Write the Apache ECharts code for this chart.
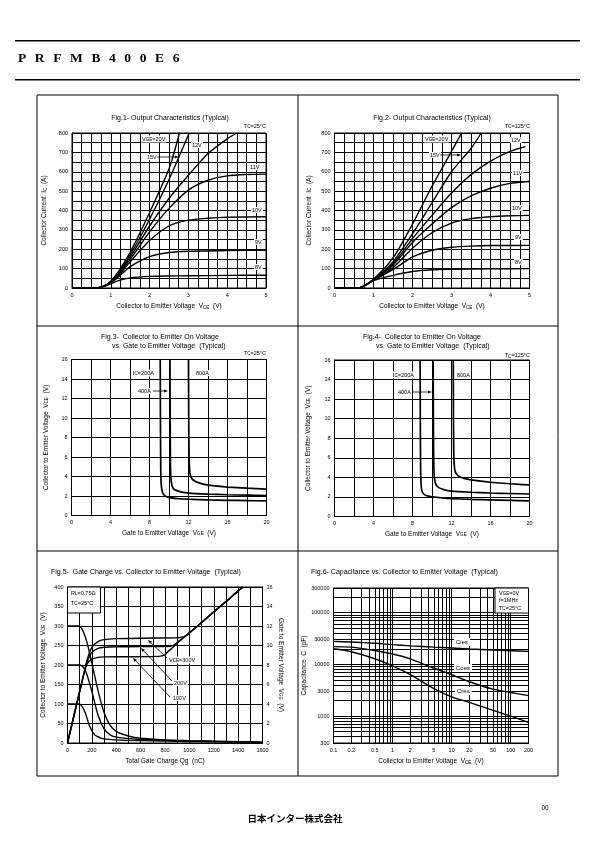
<!DOCTYPE html>
<html><head><meta charset="utf-8">
<script src="https://cdn.jsdelivr.net/npm/echarts@6/dist/echarts.min.js"></script>
<style>
html,body{margin:0;padding:0;background:#fff;width:595px;height:842px;overflow:hidden}
#c{position:absolute;left:0;top:0;width:595px;height:842px}
#hdr{position:absolute;left:18px;top:50px;font-family:'Liberation Serif','DejaVu Serif',serif;font-size:13.5px;font-weight:bold;letter-spacing:8.6px;color:#000;line-height:16px}
</style></head>
<body>
<div id="c"></div>
<div id="hdr">PRFMB400E6</div>
<script>
// ---------------- DATA ----------------
// Fig.1 Output characteristics Tc=25°C : [VCE (V), IC (A)]
const f1_8V  = [[0,0],[0.6,0],[0.8,6],[1.0,22],[1.2,38],[1.5,52],[2.0,60],[2.5,62],[3.0,63],[4.0,65],[5.0,66]];
const f1_9V  = [[0,0],[0.6,0],[0.8,7],[1.0,26],[1.2,58],[1.5,110],[2.0,162],[2.5,183],[3.0,190],[4.0,193],[5.0,195]];
const f1_10V = [[0,0],[0.6,0],[0.8,7],[1.0,28],[1.2,65],[1.5,135],[2.0,245],[2.5,320],[3.0,350],[3.5,360],[4.0,365],[5.0,368]];
const f1_11V = [[0,0],[0.6,0],[0.8,8],[1.0,30],[1.2,72],[1.5,148],[2.0,290],[2.5,411],[3.0,505],[3.5,556],[4.0,579],[4.5,586],[5.0,588]];
const f1_12V = [[0,0],[0.6,0],[0.8,8],[1.0,32],[1.2,78],[1.5,160],[2.0,320],[2.5,462],[3.0,582],[3.5,693],[4.0,770],[4.25,800]];
const f1_15V = [[0,0],[0.6,0],[0.8,8],[1.0,34],[1.2,82],[1.5,172],[2.0,355],[2.5,560],[3.02,800]];
const f1_20V = [[0,0],[0.6,0],[0.8,8],[1.0,35],[1.2,86],[1.5,185],[2.0,390],[2.5,615],[2.77,800]];
// Fig.2 Output characteristics Tc=125°C
const f2_8V  = [[0,0],[0.5,0],[0.7,5],[1.0,38],[1.5,65],[2.0,85],[2.5,94],[3.0,97],[4.0,99],[5.0,100]];
const f2_9V  = [[0,0],[0.5,0],[0.7,5],[1.0,40],[1.5,95],[2.0,160],[2.5,195],[3.0,210],[3.5,216],[4.0,219],[5.0,220]];
const f2_10V = [[0,0],[0.5,0],[0.7,5],[1.0,41],[1.5,105],[2.0,205],[2.5,285],[3.0,335],[3.5,358],[4.0,368],[4.5,373],[5.0,375]];
const f2_11V = [[0,0],[0.5,0],[0.7,5],[1.0,42],[1.5,118],[2.0,235],[2.5,330],[3.0,415],[3.5,475],[4.0,515],[4.5,540],[5.0,550]];
const f2_12V = [[0,0],[0.5,0],[0.7,5],[1.0,43],[1.5,125],[2.0,255],[2.5,375],[3.0,490],[3.5,585],[4.0,655],[4.5,705],[4.9,730]];
const f2_15V = [[0,0],[0.5,0],[0.7,5],[1.0,44],[1.5,135],[2.0,280],[2.5,440],[3.0,600],[3.5,720],[3.76,800]];
const f2_20V = [[0,0],[0.5,0],[0.7,5],[1.0,45],[1.5,155],[2.0,330],[2.5,525],[3.0,705],[3.26,800]];
// Fig.3 VCE(sat) vs VGE, Tc=25°C : [VGE (V), VCE (V)]
const f3_200A = [[9.10,16],[9.12,10],[9.15,5],[9.2,3.2],[9.3,2.5],[9.45,2.15],[9.7,1.95],[10.2,1.8],[11,1.72],[12,1.67],[14,1.6],[16,1.56],[18,1.53],[20,1.5]];
const f3_400A = [[10.10,16],[10.12,10],[10.15,5],[10.2,3.8],[10.3,3.1],[10.5,2.7],[10.8,2.55],[11.3,2.4],[12,2.3],[14,2.2],[16,2.13],[18,2.08],[20,2.03]];
const f3_800A = [[12.0,16],[12.02,10],[12.06,6],[12.12,4.6],[12.2,4.1],[12.4,3.7],[12.8,3.45],[13.5,3.22],[14,3.12],[16,2.92],[18,2.8],[20,2.7]];
// Fig.4 VCE(sat) vs VGE, Tc=125°C
const f4_200A = [[8.78,16],[8.80,10],[8.83,5],[8.88,3.3],[8.95,2.7],[9.1,2.35],[9.4,2.15],[10,2.02],[11,1.9],[12,1.83],[14,1.75],[16,1.7],[18,1.65],[20,1.6]];
const f4_400A = [[10.12,16],[10.14,10],[10.17,6],[10.22,4.3],[10.3,3.6],[10.45,3.2],[10.7,2.95],[11.2,2.75],[12,2.6],[14,2.48],[16,2.4],[18,2.35],[20,2.3]];
const f4_800A = [[12.18,16],[12.2,10],[12.23,6.5],[12.28,5.3],[12.35,4.7],[12.5,4.35],[12.8,4.1],[13.3,3.9],[14,3.75],[16,3.5],[18,3.35],[20,3.22]];
// Fig.5 Gate charge : VCE [Qg (nC), VCE (V)], VGE [Qg (nC), VGE (V)]
const f5_vce300 = [[0,300],[90,300],[120,292],[160,258],[200,205],[250,135],[300,78],[350,45],[400,30],[500,18],[600,12],[800,8],[1000,6],[1300,4],[1600,2]];
const f5_vce200 = [[0,200],[100,200],[130,194],[160,175],[200,132],[250,72],[300,36],[350,21],[400,15],[600,9],[800,7],[1000,5],[1300,3],[1600,2]];
const f5_vce100 = [[0,100],[90,100],[115,96],[145,78],[180,45],[220,22],[280,12],[400,8],[600,6],[1000,4],[1350,3]];
const f5_vge300 = [[0,0],[100,5.3],[140,7.4],[160,8.5],[200,9.8],[250,10.4],[300,10.6],[400,10.7],[600,10.75],[900,10.8],[940,10.86],[980,11.05],[1020,11.5],[1100,12.35],[1200,13.45],[1300,14.5],[1400,15.6],[1440,16]];
const f5_vge200 = [[0,0],[100,5.3],[140,7.4],[160,8.3],[200,9.3],[250,9.7],[300,9.82],[400,9.87],[600,9.88],[820,9.9],[850,9.93],[880,10.1],[920,10.5],[960,10.9],[1000,11.3],[1100,12.35],[1200,13.45],[1300,14.5],[1400,15.6],[1440,16]];
const f5_vge100 = [[0,0],[100,5.3],[140,7.4],[160,8.1],[200,8.6],[250,8.78],[300,8.83],[500,8.85],[750,8.88],[800,9.05],[830,9.45],[860,9.75],[900,10.25],[950,10.78],[1000,11.3],[1100,12.35],[1200,13.45],[1300,14.5],[1400,15.6],[1440,16]];
// Fig.6 Capacitance
const f6_vce  = [0.1, 0.2, 0.5, 1, 2, 5, 10, 20, 50, 100, 200];
const f6_cies = [27800, 27000, 25500, 24000, 22800, 21500, 20700, 19800, 18900, 18300, 17800];
const f6_coes = [22000, 21500, 18500, 15800, 12700, 8400, 6300, 4600, 3300, 2850, 2480];
const f6_cres = [20000, 17500, 12800, 9300, 6300, 3400, 2350, 1830, 1280, 990, 750];
// Fig.6 log-axis tick values
const f6_xLabels = [0.1, 0.2, 0.5, 1, 2, 5, 10, 20, 50, 100, 200];
const f6_xGrid = [0.1,0.2,0.3,0.4,0.5,0.6,0.7,0.8,0.9,1,2,3,4,5,6,7,8,9,10,20,30,40,50,60,70,80,90,100,200];
const f6_yLabels = [300, 1000, 3000, 10000, 30000, 100000, 300000];
const f6_yGrid = [300,400,500,600,700,800,900,1000,2000,3000,4000,5000,6000,7000,8000,9000,10000,20000,30000,40000,50000,60000,70000,80000,90000,100000,200000,300000];

// ---------------- STYLE / LAYOUT ----------------
const FONT = "'Liberation Sans', Arial, Helvetica, sans-serif";
const RICH = {s:{fontSize:4.6, fontFamily:FONT, verticalAlign:'bottom', padding:[2,0,0,0]}};
const gridDefs = [
  {left:72, top:133, width:194, height:155},
  {left:334.5, top:133, width:195, height:155},
  {left:71.5, top:359.5, width:195, height:156},
  {left:334.5, top:360, width:195, height:156.5},
  {left:67.5, top:587, width:195, height:156},
  {left:333.5, top:588, width:195, height:155}
];
const grids = gridDefs.map(g => Object.assign({show:true, borderColor:'#000', borderWidth:1, backgroundColor:'rgba(0,0,0,0)', containLabel:false, outerBoundsMode:'none'}, g));

function nameStyle(){ return {fontSize:6.5, fontFamily:FONT, color:'#000', rich:RICH}; }
function plainFmt(v){ return String(v); }
function valAxis(gi, pos, min, max, interval, minorN, name, nameGap, extra){
  return Object.assign({
    type:'value', gridIndex:gi, position:pos, min:min, max:max, interval:interval,
    axisLine:{show:true, onZero:false, lineStyle:{color:'#000', width:1}},
    axisTick:{show:false},
    axisLabel:{fontSize:5.5, color:'#000', fontFamily:FONT, margin:4, formatter:plainFmt},
    splitLine:{show:true, lineStyle:{color:'#000', width:1}},
    minorTick:{show:false, splitNumber: minorN || 5},
    minorSplitLine:{show: !!minorN, lineStyle:{color:'#000', width:1}},
    name:name, nameLocation:'middle', nameGap:nameGap, nameTextStyle:nameStyle()
  }, extra || {});
}
function logFmt(v){ return v < 1 ? (Math.round(v*10)/10).toString() : String(Math.round(v)); }
function logAxis(gi, pos, min, max, grid, labels, name, nameGap){
  return {
    type:'log', logBase:10, gridIndex:gi, position:pos, min:min, max:max,
    axisLine:{show:true, onZero:false, lineStyle:{color:'#000', width:1}},
    axisTick:{show:false, customValues:grid},
    axisLabel:{fontSize:5.5, color:'#000', fontFamily:FONT, margin:4, customValues:labels, formatter:logFmt},
    splitLine:{show:true, lineStyle:{color:'#000', width:1}},
    minorTick:{show:false}, minorSplitLine:{show:false},
    name:name, nameLocation:'middle', nameGap:nameGap, nameTextStyle:nameStyle()
  };
}
const VCE = 'Collector to Emitter Voltage  V{s|CE}  (V)';
const VGE = 'Gate to Emitter Voltage  V{s|GE}  (V)';
const xAxes = [
  valAxis(0,'bottom',0,5,1,4,VCE,15),
  valAxis(1,'bottom',0,5,1,4,VCE,15),
  valAxis(2,'bottom',0,20,4,2,VGE,14),
  valAxis(3,'bottom',0,20,4,2,VGE,14),
  valAxis(4,'bottom',0,1600,200,2,'Total Gate Charge Qg  (nC)',15),
  logAxis(5,'bottom',0.1,200,f6_xGrid,f6_xLabels,VCE,15)
];
const yAxes = [
  valAxis(0,'left',0,800,100,2,'Collector Current  I{s|C}  (A)',24),
  valAxis(1,'left',0,800,100,2,'Collector Current  I{s|C}  (A)',22),
  valAxis(2,'left',0,16,2,0,VCE,22),
  valAxis(3,'left',0,16,2,0,VCE,23),
  valAxis(4,'left',0,400,50,0,VCE,21),
  valAxis(4,'right',0,16,2,0,VGE,15,{splitLine:{show:false}, nameRotate:-90}),
  logAxis(5,'left',300,300000,f6_yGrid,f6_yLabels,'Capacitance  C  (pF)',22)
];

function L(data, xi, yi, w, sm){
  return {type:'line', data:data, xAxisIndex:xi, yAxisIndex:yi, symbol:'none', showSymbol:false,
    smooth: sm === undefined ? 0.25 : sm, clip:true, silent:true, animation:false,
    lineStyle:{color:'#000', width:w || 1.4}};
}
const series = [];
[f1_8V,f1_9V,f1_10V,f1_11V,f1_12V,f1_15V,f1_20V].forEach(d => series.push(L(d,0,0)));
[f2_8V,f2_9V,f2_10V,f2_11V,f2_12V,f2_15V,f2_20V].forEach(d => series.push(L(d,1,1)));
[f3_200A,f3_400A,f3_800A].forEach(d => series.push(L(d,2,2,1.7,0.15)));
[f4_200A,f4_400A,f4_800A].forEach(d => series.push(L(d,3,3,1.7,0.15)));
[f5_vce300,f5_vce200,f5_vce100].forEach(d => series.push(L(d,4,4,1.4,0.2)));
[f5_vge300,f5_vge200,f5_vge100].forEach(d => series.push(L(d,4,5,1.4,0.2)));
[f6_cies,f6_coes,f6_cres].forEach(arr => series.push(L(f6_vce.map((v,i) => [v, arr[i]]),5,6,1.4,0.3)));

// ---------------- ANNOTATIONS ----------------
function T(x, y, text, o){
  return {type:'text', x:x, y:y, z:100, silent:true,
    style:Object.assign({text:text, fill:'#000', fontSize:5.5, fontFamily:FONT, align:'left', verticalAlign:'middle',
      backgroundColor:'#fff', padding:[0,1,0,1], rich:RICH}, o || {})};
}
function A(x1,y1,x2,y2){
  const ang = Math.atan2(y2-y1, x2-x1), len = 4, wd = 1.6;
  const bx = x2 - len*Math.cos(ang), by = y2 - len*Math.sin(ang);
  const px = -Math.sin(ang)*wd, py = Math.cos(ang)*wd;
  return [
    {type:'line', z:100, silent:true, shape:{x1:x1,y1:y1,x2:bx,y2:by}, style:{stroke:'#000', lineWidth:0.8}},
    {type:'polygon', z:100, silent:true, shape:{points:[[x2,y2],[bx+px,by+py],[bx-px,by-py]]}, style:{fill:'#000'}}
  ];
}
function TITLE(x, y, text, align){
  return {type:'text', x:x, y:y, z:100, silent:true,
    style:{text:text, fill:'#000', fontSize:7, fontFamily:FONT, align:align || 'center', verticalAlign:'middle'}};
}
const NOBG = {backgroundColor:'rgba(0,0,0,0)'};
const graphics = [
  // page rules and frame
  {type:'rect', silent:true, shape:{x:15, y:40, width:565, height:1.5}, style:{fill:'#000'}},
  {type:'rect', silent:true, shape:{x:15, y:79, width:565, height:1.5}, style:{fill:'#000'}},
  {type:'rect', silent:true, shape:{x:37, y:95, width:521, height:681}, style:{fill:'none', stroke:'#000', lineWidth:1}},
  {type:'line', silent:true, shape:{x1:298, y1:95, x2:298, y2:776}, style:{stroke:'#000', lineWidth:1}},
  {type:'line', silent:true, shape:{x1:37, y1:326, x2:558, y2:326}, style:{stroke:'#000', lineWidth:1}},
  {type:'line', silent:true, shape:{x1:37, y1:551, x2:558, y2:551}, style:{stroke:'#000', lineWidth:1}},
  // titles
  TITLE(170,118,'Fig.1- Output Characteristics (Typical)'),
  TITLE(432,118,'Fig.2- Output Characteristics (Typical)'),
  TITLE(101,337,'Fig.3-  Collector to Emitter On Voltage','left'),
  TITLE(112,346.5,'vs. Gate to Emitter Voltage  (Typical)','left'),
  TITLE(363,337,'Fig.4-  Collector to Emitter On Voltage','left'),
  TITLE(376,346.5,'vs. Gate to Emitter Voltage  (Typical)','left'),
  TITLE(51,572.5,'Fig.5-  Gate Charge vs. Collector to Emitter Voltage  (Typical)','left'),
  TITLE(311,572.5,'Fig.6- Capacitance vs. Collector to Emitter Voltage  (Typical)','left'),
  // Fig.1 labels
  T(267,126,'T{s|C}=25°C',Object.assign({align:'right'},NOBG)),
  T(141,139,'V{s|GE}=20V'),
  T(191,145,'12V'),
  T(146,157,'15V'),
  ...A(157,157,179,157),
  T(249,167,'11V'),
  T(251,210,'10V'),
  T(254,242,'9V'),
  T(254,267,'8V'),
  // Fig.2 labels
  T(531,126,'T{s|C}=125°C',Object.assign({align:'right'},NOBG)),
  T(424,139,'V{s|GE}=20V'),
  T(510,140,'12V'),
  T(429,155,'15V'),
  ...A(440,155,461,155),
  T(512,173,'11V'),
  T(511,208,'10V'),
  T(514,237,'9V'),
  T(514,262,'8V'),
  // Fig.3 labels
  T(267,353,'T{s|C}=25°C',Object.assign({align:'right'},NOBG)),
  T(132,373,'I{s|C}=200A'),
  T(195,373,'800A'),
  T(137,391,'400A'),
  ...A(153,391,168,391),
  // Fig.4 labels
  T(531,355.5,'T{s|C}=125°C',Object.assign({align:'right'},NOBG)),
  T(392,375,'I{s|C}=200A'),
  T(456,375,'800A'),
  T(397,392,'400A'),
  ...A(413,392,432,392),
  // Fig.5 labels
  {type:'rect', z:99, silent:true, shape:{x:67.5, y:587, width:33, height:26}, style:{fill:'#fff', stroke:'#000', lineWidth:1}},
  T(70,593,'R{s|L}=0.75Ω',NOBG),
  T(70,603,'T{s|C}=25°C',NOBG),
  T(168,660,'V{s|CE}=300V'),
  ...A(167,658,148,640),
  T(173,683,'200V'),
  ...A(172,681,141,648),
  T(172,698,'100V'),
  ...A(170,697,133,658),
  // Fig.6 labels
  {type:'rect', z:99, silent:true, shape:{x:495, y:588, width:33.5, height:25}, style:{fill:'#fff', stroke:'#000', lineWidth:1}},
  T(498,593,'V{s|GE}=0V',NOBG),
  T(498,600.5,'f=1MHz',NOBG),
  T(498,608,'T{s|C}=25°C',NOBG),
  T(454,642,'Cies',{padding:[1,2,1,2], fontSize:6}),
  T(454,668,'Coes',{padding:[1,2,1,2], fontSize:6}),
  T(455,691,'Cres',{padding:[1,2,1,2], fontSize:6}),
  // footer
  {type:'text', x:545, y:808, silent:true, style:{text:'00', fill:'#000', fontSize:6.5, fontFamily:FONT, align:'center', verticalAlign:'middle'}},
  {type:'text', x:295, y:818, silent:true, style:{text:'日本インター株式会社', fill:'#000', fontSize:9.5, fontWeight:'bold', fontFamily:"'Noto Sans CJK JP', sans-serif", align:'center', verticalAlign:'middle'}}
];

const chart = echarts.init(document.getElementById('c'), null, {renderer:'canvas', width:595, height:842});
chart.setOption({
  animation:false,
  backgroundColor:'#fff',
  textStyle:{fontFamily:FONT},
  grid:grids,
  xAxis:xAxes,
  yAxis:yAxes,
  series:series,
  graphic:{elements:graphics}
});
</script>
</body></html>
